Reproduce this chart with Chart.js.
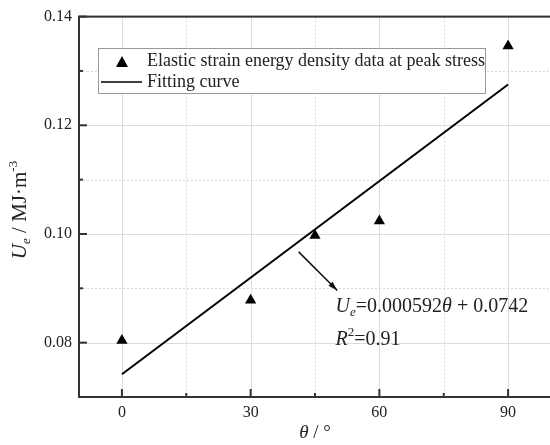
<!DOCTYPE html>
<html>
<head>
<meta charset="utf-8">
<script src="https://cdn.jsdelivr.net/npm/chart.js@4.4.0/dist/chart.umd.min.js"></script>
<style>
    html, body { margin: 0; padding: 0; background: #fff; overflow: hidden; }
    #wrap { width: 560px; height: 445px; }
</style>
</head>
<body>
<div id="wrap"><canvas id="chart" width="560" height="445"></canvas></div>
<script>
// Data
const angles = [0, 30, 45, 60, 90];
const energy = [0.0804, 0.0878, 0.0997, 0.1024, 0.1346];
const fitAngles = [0, 90];
const fitEnergy = [0.0742, 0.1275];
const xTicks = [0, 30, 60, 90];
const xMinor = [15, 45, 75];
const yTicks = [0.08, 0.10, 0.12, 0.14];
const yMinor = [0.09, 0.11, 0.13];
const yTickLabels = ['0.08', '0.10', '0.12', '0.14'];
const arrowFrom = [41.2, 0.0967];
const arrowTo = [50.2, 0.0896];
const equationAt = [49.8, 0.0870];
const r2At = [49.8, 0.0809];

const serif = '"Liberation Serif", "Times New Roman", serif';
const ink = '#222';

// grid, frame, inward ticks, legend and annotations
const decorations = {
    id: 'decorations',
    beforeDatasetsDraw(chart) {
        const ctx = chart.ctx;
        const a = chart.chartArea;
        const x = chart.scales.x, y = chart.scales.y;
        ctx.save();
        ctx.lineWidth = 1;
        // minor grid (dotted)
        ctx.strokeStyle = '#d8d8d8';
        ctx.setLineDash([2, 2]);
        xMinor.forEach(v => {
            const px = Math.round(x.getPixelForValue(v)) + 0.5;
            ctx.beginPath(); ctx.moveTo(px, a.top); ctx.lineTo(px, a.bottom); ctx.stroke();
        });
        yMinor.forEach(v => {
            const py = Math.round(y.getPixelForValue(v)) + 0.5;
            ctx.beginPath(); ctx.moveTo(a.left, py); ctx.lineTo(a.right, py); ctx.stroke();
        });
        // major grid (solid)
        ctx.setLineDash([]);
        ctx.strokeStyle = '#dcdcdc';
        xTicks.forEach(v => {
            const px = Math.round(x.getPixelForValue(v)) + 0.5;
            ctx.beginPath(); ctx.moveTo(px, a.top); ctx.lineTo(px, a.bottom); ctx.stroke();
        });
        yTicks.forEach(v => {
            const py = Math.round(y.getPixelForValue(v)) + 0.5;
            ctx.beginPath(); ctx.moveTo(a.left, py); ctx.lineTo(a.right, py); ctx.stroke();
        });
        ctx.restore();
    },
    afterDatasetsDraw(chart) {
        const ctx = chart.ctx;
        const a = chart.chartArea;
        const x = chart.scales.x, y = chart.scales.y;
        ctx.save();
        // inward ticks
        ctx.strokeStyle = '#333';
        ctx.lineWidth = 2;
        xTicks.forEach(v => {
            const px = x.getPixelForValue(v);
            ctx.beginPath(); ctx.moveTo(px, a.bottom); ctx.lineTo(px, a.bottom - 8); ctx.stroke();
        });
        xMinor.forEach(v => {
            const px = x.getPixelForValue(v);
            ctx.beginPath(); ctx.moveTo(px, a.bottom); ctx.lineTo(px, a.bottom - 4); ctx.stroke();
        });
        yTicks.forEach(v => {
            const py = y.getPixelForValue(v);
            ctx.beginPath(); ctx.moveTo(a.left, py); ctx.lineTo(a.left + 8, py); ctx.stroke();
        });
        yMinor.forEach(v => {
            const py = y.getPixelForValue(v);
            ctx.beginPath(); ctx.moveTo(a.left, py); ctx.lineTo(a.left + 4, py); ctx.stroke();
        });
        // frame
        ctx.strokeRect(a.left, a.top, a.right - a.left, a.bottom - a.top);

        // legend box
        ctx.lineWidth = 1;
        ctx.fillStyle = '#fff';
        ctx.fillRect(98, 48, 388, 45);
        ctx.strokeStyle = '#999';
        ctx.strokeRect(98.5, 48.5, 387, 45);
        ctx.fillStyle = '#000';
        ctx.beginPath();
        ctx.moveTo(122, 56); ctx.lineTo(128, 67); ctx.lineTo(116, 67); ctx.closePath();
        ctx.fill();
        ctx.strokeStyle = '#000';
        ctx.lineWidth = 1.5;
        ctx.beginPath(); ctx.moveTo(101, 82); ctx.lineTo(142, 82); ctx.stroke();
        ctx.fillStyle = ink;
        ctx.font = '18px ' + serif;
        ctx.textBaseline = 'middle';
        ctx.textAlign = 'left';
        ctx.fillText(chart.data.datasets[0].label, 147, 61);
        ctx.fillText(chart.data.datasets[1].label, 147, 82);

        // arrow
        const x1 = x.getPixelForValue(arrowFrom[0]), y1 = y.getPixelForValue(arrowFrom[1]);
        const x2 = x.getPixelForValue(arrowTo[0]), y2 = y.getPixelForValue(arrowTo[1]);
        ctx.strokeStyle = '#111';
        ctx.lineWidth = 1.5;
        ctx.beginPath(); ctx.moveTo(x1, y1); ctx.lineTo(x2, y2); ctx.stroke();
        const ang = Math.atan2(y2 - y1, x2 - x1);
        ctx.fillStyle = '#111';
        ctx.beginPath();
        ctx.moveTo(x2, y2);
        ctx.lineTo(x2 - 10 * Math.cos(ang - 0.3), y2 - 10 * Math.sin(ang - 0.3));
        ctx.lineTo(x2 - 10 * Math.cos(ang + 0.3), y2 - 10 * Math.sin(ang + 0.3));
        ctx.closePath();
        ctx.fill();

        // equation
        const italic = 'italic 20px ' + serif;
        const upright = '20px ' + serif;
        let ex = x.getPixelForValue(equationAt[0]);
        let ey = y.getPixelForValue(equationAt[1]);
        ctx.fillStyle = ink;
        ctx.textBaseline = 'alphabetic';
        const runs = [
            [italic, 'U', 0], ['italic 13px ' + serif, 'e', 4],
            [upright, '=0.000592', 0], [italic, 'θ', 0], [upright, ' + 0.0742', 0]
        ];
        runs.forEach(r => {
            ctx.font = r[0];
            ctx.fillText(r[1], ex, ey + 7 + r[2]);
            ex += ctx.measureText(r[1]).width;
        });
        let rx = x.getPixelForValue(r2At[0]);
        const ry = y.getPixelForValue(r2At[1]);
        const r2runs = [[italic, 'R', 0], ['13px ' + serif, '2', -9], [upright, '=0.91', 0]];
        r2runs.forEach(r => {
            ctx.font = r[0];
            ctx.fillText(r[1], rx, ry + 7 + r[2]);
            rx += ctx.measureText(r[1]).width;
        });

        // axis titles
        const tItalic = 'italic 19px ' + serif;
        const tUpright = '19px ' + serif;
        ctx.textAlign = 'left';
        let tw = 0;
        const xt = [[tItalic, 'θ'], [tUpright, ' / °']];
        xt.forEach(r => { ctx.font = r[0]; tw += ctx.measureText(r[1]).width; });
        let tx = (a.left + a.right) / 2 - tw / 2;
        xt.forEach(r => { ctx.font = r[0]; ctx.fillText(r[1], tx, 438); tx += ctx.measureText(r[1]).width; });

        const yItalic = 'italic 21px ' + serif;
        const yUpright = '21px ' + serif;
        ctx.translate(26, 210);
        ctx.rotate(-Math.PI / 2);
        const yt = [[yItalic, 'U', 0], ['italic 13px ' + serif, 'e', 4], [yUpright, ' / MJ·m', 0], ['13px ' + serif, '-3', -9]];
        tw = 0;
        yt.forEach(r => { ctx.font = r[0]; tw += ctx.measureText(r[1]).width; });
        let yx = -tw / 2;
        yt.forEach(r => { ctx.font = r[0]; ctx.fillText(r[1], yx, r[2]); yx += ctx.measureText(r[1]).width; });
        ctx.restore();
    }
};

new Chart(document.getElementById('chart'), {
    type: 'scatter',
    data: {
        datasets: [
            {
                label: 'Elastic strain energy density data at peak stress',
                data: angles.map((v, i) => ({ x: v, y: energy[i] })),
                pointStyle: 'triangle',
                pointRadius: 6.5,
                backgroundColor: '#000',
                borderColor: '#000',
                borderWidth: 0
            },
            {
                label: 'Fitting curve',
                type: 'line',
                data: fitAngles.map((v, i) => ({ x: v, y: fitEnergy[i] })),
                borderColor: '#000',
                borderWidth: 2,
                pointRadius: 0,
                showLine: true,
                fill: false
            }
        ]
    },
    options: {
        responsive: false,
        animation: false,
        layout: { padding: { left: 0, top: 16, right: 9, bottom: 0 } },
        plugins: { legend: { display: false }, tooltip: { enabled: false } },
        scales: {
            x: {
                type: 'linear',
                min: -10,
                max: 100,
                grid: { display: false, drawTicks: false },
                border: { display: false },
                afterBuildTicks: s => { s.ticks = xTicks.map(v => ({ value: v })); },
                afterFit: s => { s.height = 48; },
                ticks: {
                    padding: 6,
                    color: ink,
                    font: { family: serif, size: 16 },
                    callback: v => String(v)
                }
            },
            y: {
                type: 'linear',
                min: 0.07,
                max: 0.14,
                grid: { display: false, drawTicks: false },
                border: { display: false },
                afterBuildTicks: s => { s.ticks = yTicks.map(v => ({ value: v })); },
                afterFit: s => { s.width = 79; },
                ticks: {
                    padding: 7,
                    color: ink,
                    font: { family: serif, size: 16 },
                    callback: (v, i) => yTickLabels[i]
                }
            }
        }
    },
    plugins: [decorations]
});
</script>
</body>
</html>
